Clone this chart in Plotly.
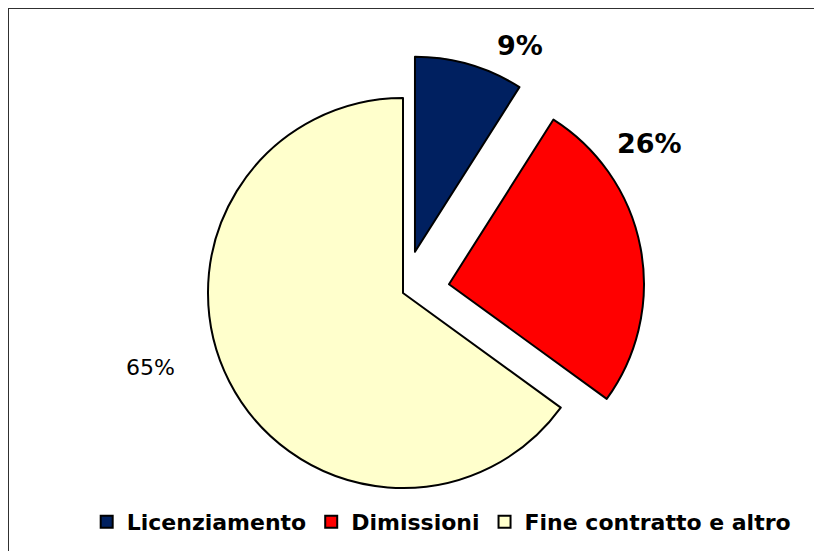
import plotly.graph_objects as go

categories = ["Licenziamento", "Dimissioni", "Fine contratto e altro"]
values = [9, 26, 65]
colors = ["#002060", "#FF0000", "#FFFFCC"]
pulls = [0.22, 0.24, 0]

W, H = 822, 551
OFF = 8  # page body margin in the browser
cx, cy = 403 - OFF, 293 - OFF   # pie centre in paper pixels
r = 195
half = r * (1 + max(pulls))

total = sum(values)
pct_text = [f"{round(v / total * 100)}%" for v in values]

fig = go.Figure(go.Pie(
    labels=categories,
    values=values,
    textinfo="none",
    sort=False,
    direction="clockwise",
    rotation=0,
    pull=pulls,
    marker=dict(colors=colors, line=dict(color="black", width=2)),
    domain=dict(x=[(cx - half) / W, (cx + half) / W],
                y=[(H - cy - half) / H, (H - cy + half) / H]),
    hoverinfo="label+percent",
))

# label placement (paper pixels) and styles for each slice label
label_pos = [(520 - OFF, 45 - OFF), (649 - OFF, 143 - OFF), (150 - OFF, 367 - OFF)]
label_size = [27, 27, 22]
label_weight = ["bold", "bold", "normal"]
annotations = []
for t, (px, py), s, wgt in zip(pct_text, label_pos, label_size, label_weight):
    annotations.append(dict(
        x=px / W, y=1 - py / H, xref="paper", yref="paper",
        text=t, showarrow=False, xanchor="center", yanchor="middle",
        font=dict(family="DejaVu Sans", size=s, color="black", weight=wgt),
    ))

fig.update_layout(
    width=W, height=H,
    margin=dict(l=0, r=0, t=0, b=0, autoexpand=False),
    paper_bgcolor="white",
    showlegend=True,
    legend=dict(
        orientation="h",
        x=0.527, xanchor="center",
        y=1 - (522 - OFF) / H, yanchor="middle",
        font=dict(family="DejaVu Sans", size=22, color="black", weight="bold"),
        itemwidth=30,
        tracegroupgap=0,
    ),
    annotations=annotations,
    shapes=[dict(type="rect", xref="paper", yref="paper",
                 x0=0, x1=1.05, y0=-0.05, y1=1,
                 line=dict(color="#303030", width=2))],
)

fig.write_html("out.html")
